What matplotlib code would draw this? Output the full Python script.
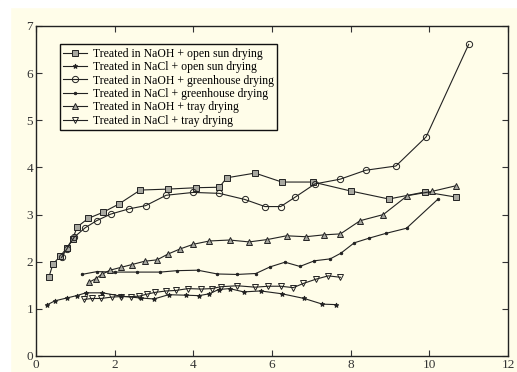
import matplotlib
matplotlib.use("Agg")
import matplotlib.pyplot as plt
from matplotlib.patches import Rectangle

# data
naoh_sun_x = [0.33, 0.43, 0.62, 0.78, 0.93, 1.05, 1.33, 1.71, 2.1, 2.65, 3.35, 4.08, 4.66, 4.85, 5.57, 6.25, 7.04, 8.0, 8.97, 9.89, 10.68]
naoh_sun_y = [1.68, 1.95, 2.12, 2.29, 2.48, 2.74, 2.92, 3.05, 3.22, 3.52, 3.54, 3.57, 3.58, 3.78, 3.88, 3.69, 3.69, 3.50, 3.33, 3.48, 3.37]

nacl_sun_x = [0.27, 0.48, 0.78, 1.03, 1.27, 1.69, 2.16, 2.66, 3.0, 3.37, 3.81, 4.14, 4.41, 4.64, 4.92, 5.28, 5.71, 6.25, 6.82, 7.28, 7.63]
nacl_sun_y = [1.08, 1.17, 1.23, 1.28, 1.34, 1.34, 1.27, 1.23, 1.21, 1.30, 1.29, 1.28, 1.32, 1.41, 1.43, 1.36, 1.38, 1.32, 1.22, 1.10, 1.09]

naoh_gh_x = [0.65, 0.79, 0.97, 1.25, 1.54, 1.90, 2.36, 2.79, 3.31, 4.0, 4.66, 5.31, 5.82, 6.22, 6.59, 7.09, 7.73, 8.38, 9.15, 9.92, 11.0]
naoh_gh_y = [2.09, 2.28, 2.52, 2.72, 2.87, 3.01, 3.12, 3.19, 3.41, 3.47, 3.45, 3.32, 3.17, 3.17, 3.37, 3.65, 3.75, 3.94, 4.03, 4.65, 6.61]

nacl_gh_x = [1.16, 1.55, 2.01, 2.58, 3.16, 3.58, 4.11, 4.61, 5.11, 5.59, 5.95, 6.33, 6.71, 7.08, 7.48, 7.75, 8.09, 8.47, 8.89, 9.42, 10.21]
nacl_gh_y = [1.73, 1.79, 1.78, 1.78, 1.78, 1.81, 1.82, 1.74, 1.73, 1.75, 1.89, 1.99, 1.90, 2.02, 2.06, 2.18, 2.40, 2.50, 2.60, 2.71, 3.32]

naoh_tray_x = [1.36, 1.52, 1.67, 1.88, 2.16, 2.44, 2.76, 3.08, 3.35, 3.66, 4.0, 4.41, 4.92, 5.42, 5.88, 6.37, 6.86, 7.32, 7.74, 8.24, 8.83, 9.44, 10.06, 10.67]
naoh_tray_y = [1.57, 1.64, 1.73, 1.82, 1.88, 1.94, 2.01, 2.04, 2.16, 2.27, 2.37, 2.44, 2.46, 2.42, 2.47, 2.55, 2.53, 2.57, 2.59, 2.87, 3.00, 3.40, 3.49, 3.61]

nacl_tray_x = [1.22, 1.42, 1.65, 1.93, 2.16, 2.42, 2.63, 2.81, 3.03, 3.31, 3.55, 3.87, 4.20, 4.47, 4.70, 5.12, 5.57, 5.91, 6.22, 6.54, 6.80, 7.12, 7.43, 7.74]
nacl_tray_y = [1.20, 1.22, 1.22, 1.25, 1.26, 1.26, 1.27, 1.31, 1.35, 1.38, 1.39, 1.43, 1.42, 1.43, 1.47, 1.49, 1.46, 1.48, 1.48, 1.45, 1.54, 1.63, 1.70, 1.67]

labels = ["Treated in NaOH + open sun drying",
          "Treated in NaCl + open sun drying",
          "Treated in NaOH + greenhouse drying",
          "Treated in NaCl + greenhouse drying",
          "Treated in NaOH + tray drying",
          "Treated in NaCl + tray drying"]

cream = "#fffde9"
plt.rcParams['font.family'] = ['Liberation Serif', 'DejaVu Serif']

fig = plt.figure(figsize=(5.17, 3.72), dpi=100, facecolor=cream)
# white margin strips seen on the left and top of the reference
fig.patches.append(Rectangle((0, 0), 10 / 517, 1, transform=fig.transFigure, color="white", zorder=-1))
fig.patches.append(Rectangle((0, 1 - 7 / 372), 1, 7 / 372, transform=fig.transFigure, color="white", zorder=-1))

ax = fig.add_axes([36 / 517, 16 / 372, 472 / 517, 330 / 372])
ax.set_facecolor(cream)

lc = "#222222"
kw = dict(color=lc, lw=0.8, markeredgecolor=lc, markeredgewidth=0.7)
ax.plot(naoh_sun_x, naoh_sun_y, marker="s", ms=4, markerfacecolor="#a8a8a0", label=labels[0], **kw)
ax.plot(nacl_sun_x, nacl_sun_y, marker="*", ms=3.5, markerfacecolor=lc, label=labels[1], **kw)
ax.plot(naoh_gh_x, naoh_gh_y, marker="o", ms=4.5, markerfacecolor="none", label=labels[2], **kw)
ax.plot(nacl_gh_x, nacl_gh_y, marker=".", ms=3.5, markerfacecolor=lc, label=labels[3], **kw)
ax.plot(naoh_tray_x, naoh_tray_y, marker="^", ms=4.5, markerfacecolor="#a8a8a0", label=labels[4], **kw)
ax.plot(nacl_tray_x, nacl_tray_y, marker="v", ms=4.5, markerfacecolor="none", label=labels[5], **kw)

ax.set_xlim(0, 12)
ax.set_ylim(0, 7)
ax.set_xticks(range(0, 13, 2))
ax.set_yticks(range(0, 8))
ax.tick_params(direction="in", top=True, right=True, length=4, width=0.8,
               labelsize=9.5, colors="#333333", pad=2)
for s in ax.spines.values():
    s.set_linewidth(1.0)
    s.set_color("#222222")

leg = ax.legend(loc="upper left", bbox_to_anchor=(0.05, 0.945), fontsize=8.5,
                frameon=True, fancybox=False, borderaxespad=0, handlelength=2,
                handletextpad=0.5, labelspacing=0.12, borderpad=0.3)
leg.get_frame().set_edgecolor("#111111")
leg.get_frame().set_linewidth(1.0)
leg.get_frame().set_facecolor(cream)
leg.get_frame().set_alpha(1)

fig.savefig("out.png", dpi=100, facecolor=cream)
